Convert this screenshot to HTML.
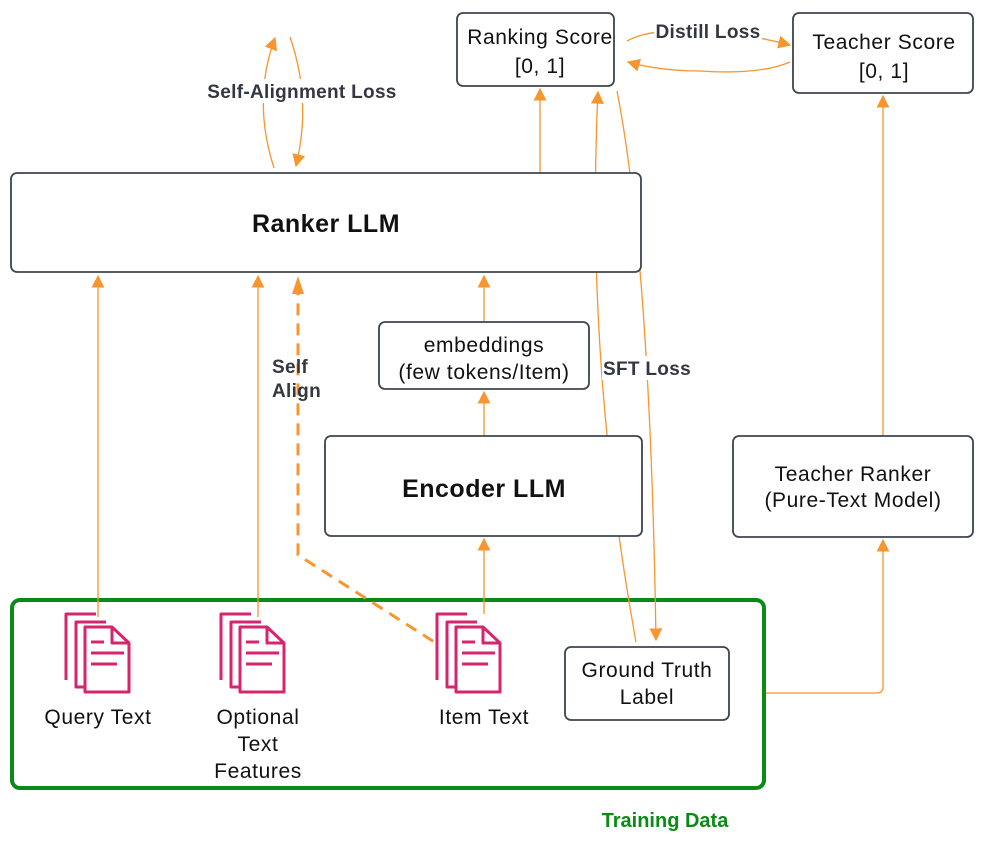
<!DOCTYPE html>
<html><head><meta charset="utf-8"><style>
html,body{margin:0;padding:0;background:#fff;}
svg{display:block;font-family:"Liberation Sans",Arial,sans-serif;}
</style></head><body>
<svg width="986" height="844" viewBox="0 0 986 844" xmlns="http://www.w3.org/2000/svg">
<defs>
<marker id="arB" viewBox="0 0 10 10" refX="9" refY="5" markerWidth="13" markerHeight="13" orient="auto" markerUnits="userSpaceOnUse">
<path d="M0,0 L10,5 L0,10 z" fill="#f7952e"/>
</marker>
<g id="doc" fill="#fff" stroke="#d6246e" stroke-width="3" stroke-linejoin="round">
<path d="M96,614 H66 V680"/>
<path d="M106,622 H76 V687 H85"/>
<path d="M85,627 H112 L129,643 V692 H85 Z"/>
<path d="M112,627 V643 H129" fill="none"/>
<path d="M91,642 H104 M91,653 H124 M91,664 H117" fill="none"/>
</g>
</defs>

<rect x="12" y="600" width="752" height="188" rx="8" fill="none" stroke="#0a8a16" stroke-width="4"/>
<text x="665" y="827" text-anchor="middle" font-size="20" font-weight="bold" fill="#0a8a16">Training Data</text>

<g stroke="#f7952e" stroke-width="1.3" fill="none">
<line x1="98" y1="617" x2="98" y2="276" marker-end="url(#arB)"/>
<line x1="258" y1="617" x2="258" y2="276" marker-end="url(#arB)"/>
<line x1="484" y1="614" x2="484" y2="539" marker-end="url(#arB)"/>
<line x1="484" y1="436" x2="484" y2="392" marker-end="url(#arB)"/>
<line x1="484" y1="322" x2="484" y2="276" marker-end="url(#arB)"/>
<line x1="540" y1="173" x2="540" y2="89" marker-end="url(#arB)"/>
<line x1="883" y1="436" x2="883" y2="96" marker-end="url(#arB)"/>
<path d="M766,693 H877 Q883,693 883,687 V540" marker-end="url(#arB)"/>
<path d="M636,642 Q585,360 598,92" marker-end="url(#arB)"/>
<path d="M617,91 Q650,260 656,640" marker-end="url(#arB)"/>
<path d="M274,168 Q252,100 275,38" marker-end="url(#arB)"/>
<path d="M290,37 Q312,100 296,166" marker-end="url(#arB)"/>
<path d="M627,41 Q650,28 700,32 Q740,32 790,45" marker-end="url(#arB)"/>
<path d="M790,62 Q760,75 700,71 Q660,71 628,62" marker-end="url(#arB)"/>
</g>
<path d="M450,652 L298,555 V280" stroke="#f7952e" stroke-width="3" fill="none" stroke-dasharray="12,8"/>
<path d="M298,276 L292,294 L304,294 Z" fill="#f7952e"/>

<g font-size="19" font-weight="bold" fill="#333740" letter-spacing="0.3">
<rect x="202" y="79" width="200" height="24" fill="#fff"/>
<text x="302" y="98" text-anchor="middle">Self-Alignment Loss</text>
<rect x="654" y="22" width="108" height="22" fill="#fff"/>
<text x="708" y="38" text-anchor="middle">Distill Loss</text>
<rect x="602" y="356" width="90" height="24" fill="#fff"/>
<text x="647" y="375" text-anchor="middle">SFT Loss</text>
<text x="272" y="373">Self</text>
<text x="272" y="397">Align</text>
</g>

<g fill="#fff" stroke="#3e4450" stroke-width="1.8">
<rect x="11" y="173" width="630" height="99" rx="6"/>
<rect x="457" y="13" width="157" height="73" rx="6"/>
<rect x="793" y="13" width="180" height="80" rx="6"/>
<rect x="379" y="322" width="210" height="67" rx="6"/>
<rect x="325" y="436" width="317" height="100" rx="6"/>
<rect x="733" y="436" width="240" height="101" rx="6"/>
<rect x="565" y="647" width="164" height="73" rx="6"/>
</g>
<g fill="#111" font-size="21" text-anchor="middle" letter-spacing="0.6">
<text x="326" y="232" font-size="25" font-weight="bold" letter-spacing="0.5">Ranker LLM</text>
<text x="484" y="497" font-size="25" font-weight="bold" letter-spacing="0.5">Encoder LLM</text>
<text x="540" y="44">Ranking Score</text>
<text x="540" y="73">[0, 1]</text>
<text x="884" y="49">Teacher Score</text>
<text x="884" y="78">[0, 1]</text>
<text x="484" y="352">embeddings</text>
<text x="484" y="379">(few tokens/Item)</text>
<text x="853" y="481">Teacher Ranker</text>
<text x="853" y="507">(Pure-Text Model)</text>
<text x="647" y="677">Ground Truth</text>
<text x="647" y="704">Label</text>
<text x="98" y="724">Query Text</text>
<text x="258" y="724">Optional</text>
<text x="258" y="751">Text</text>
<text x="258" y="778">Features</text>
<text x="484" y="724">Item Text</text>
</g>

<use href="#doc"/>
<use href="#doc" transform="translate(155,0)"/>
<use href="#doc" transform="translate(371,0)"/>
</svg>
</body></html>
